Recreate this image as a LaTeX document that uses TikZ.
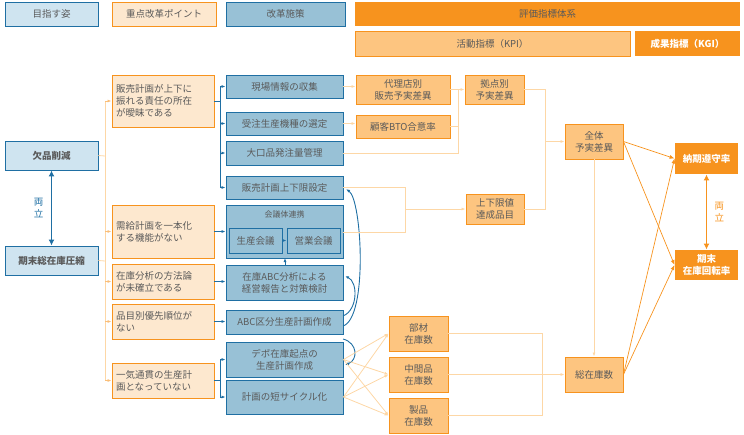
\documentclass[tikz,border=0pt]{standalone}
\usepackage{fontspec}
\setmainfont{Noto Sans CJK JP}
\usetikzlibrary{arrows.meta}
\definecolor{gtxt}{HTML}{5A5A5A}
\definecolor{lb}{HTML}{CFE4F0}
\definecolor{bb}{HTML}{1F6FA3}
\definecolor{mb}{HTML}{98C1D6}
\definecolor{lo}{HTML}{FDE8CF}
\definecolor{ob}{HTML}{F7931E}
\definecolor{ko}{HTML}{FDC580}
\definecolor{ln}{HTML}{FDD7A6}
\tikzset{
 base/.style={font=\fontsize{9.5}{12}\selectfont, text=gtxt, inner sep=1pt, line width=0.9pt},
 goal/.style={base, draw=bb, fill=lb},
 pt/.style={base, draw=ob, fill=lo, align=left, text width=94pt},
 meas/.style={base, draw=bb, fill=mb, align=center},
 kpi/.style={base, draw=ob, fill=ko, align=center},
 kgi/.style={base, fill=ob, text=white, font=\fontsize{9.5}{12}\selectfont\bfseries, align=center},
 oline/.style={draw=ln, line width=0.8pt},
 oarr/.style={oline, -{Latex[length=4pt,width=3pt]}},
 barr/.style={draw=bb, line width=0.9pt, -{Latex[length=4pt,width=3pt]}},
 garr/.style={draw=ob, line width=0.9pt, -{Latex[length=5pt,width=4pt]}},
}
\newcommand{\bx}[7]{\node[#1, minimum width=#4pt-#2pt, minimum height=#5pt-#3pt] (#6) at ({(#2+#4)/2},{(#3+#5)/2}) {#7};}
\begin{document}
\begin{tikzpicture}[x=1pt,y=-1pt]
\useasboundingbox (0,0) rectangle (744,434);
% header
\bx{goal}{5}{2}{98}{26}{h1}{目指す姿}
\bx{base,draw=ob,fill=lo}{112}{2}{216}{26}{h2}{重点改革ポイント}
\bx{meas}{226}{2}{345}{26}{h3}{改革施策}
\bx{base,fill=ob}{355}{2}{740}{26}{h4}{評価指標体系}
\bx{base,fill=ko,draw=ob}{355}{31}{630}{56}{h5}{活動指標（KPI）}
\bx{kgi}{635}{31}{740}{56}{h6}{成果指標（KGI）}
% goals
\bx{goal}{5}{141}{98}{170}{g1}{\bfseries 欠品削減}
\bx{goal}{5}{246}{98}{275}{g2}{\bfseries 期末総在庫圧縮}
\draw[draw=bb,line width=1.6pt,{Latex[length=6pt,width=6pt]}-{Latex[length=6pt,width=6pt]}] (g1.south) -- (g2.north) node[midway,left=4pt,text=bb,font=\fontsize{9.5}{12}\selectfont,align=center]{両\\立};
% points
\bx{pt}{112}{75}{214}{127}{p1}{販売計画が上下に\\振れる責任の所在\\が曖昧である}
\bx{pt}{112}{205}{214}{258}{p2}{需給計画を一本化\\する機能がない}
\bx{pt}{112}{264}{214}{299}{p3}{在庫分析の方法論\\が未確立である}
\bx{pt}{112}{304}{214}{339}{p4}{品目別優先順位が\\ない}
\bx{pt}{112}{363}{214}{398}{p5}{一気通貫の生産計\\画となっていない}
\coordinate (t1) at (105,101);
\coordinate (t5) at (105,381);
\draw[oline] (g1.east) -- (105,156);
\draw[oline] (g2.east) -- (105,261);
\draw[oline] (t1) -- (t5);
\foreach \p in {p1,p2,p3,p4,p5}{\draw[oarr,draw=ob!60] (105,0 |- \p.west) -- (\p.west);}
% measures
\bx{meas}{226}{75}{343}{98}{m1}{現場情報の収集}
\bx{meas}{226}{112}{343}{135}{m2}{受注生産機種の選定}
\bx{meas}{226}{141}{343}{165}{m3}{大口品発注量管理}
\bx{meas}{226}{176}{343}{199}{m4}{販売計画上下限設定}
\bx{meas}{226}{205}{343}{258}{m5}{}
\node[base,font=\fontsize{8}{10}\selectfont] (m5t) at (284.5,214) {会議体連携};
\bx{meas}{229}{228}{282}{253}{m5a}{生産会議}
\bx{meas}{287}{228}{340}{253}{m5b}{営業会議}
\bx{meas}{226}{265}{343}{300}{m6}{在庫ABC分析による\\経営報告と対策検討}
\bx{meas}{226}{310}{343}{334}{m7}{ABC区分生産計画作成}
\bx{meas}{226}{342}{343}{377}{m8}{デポ在庫起点の\\生産計画作成}
\bx{meas}{226}{380}{343}{414}{m9}{計画の短サイクル化}
\draw[draw=bb,line width=0.9pt] (p1.east) -- (220,101 |- p1.east);
\draw[draw=bb,line width=0.9pt] (220,86.5) -- (220,187.5);
\foreach \m in {m1,m2,m3,m4}{\draw[barr] (220,0 |- \m.west) -- (\m.west);}
\draw[draw=bb,line width=0.9pt] (p5.east) -- (220,0 |- p5.east);
\draw[draw=bb,line width=0.9pt] (220,359.5) -- (220,397);
\foreach \m in {m8,m9}{\draw[barr] (220,0 |- \m.west) -- (\m.west);}
\draw[barr] (p2.east) -- (m5.west |- p2.east);
\draw[barr] (p3.east) -- (m6.west |- p3.east);
\draw[barr] (p4.east) -- (m7.west |- p4.east);
\draw[barr] (m5a) -- (m5b);
\draw[barr] (m6.north -| 285,0) -- (285,258);
\draw[barr] (343,316) .. controls (358,310) and (358,282) .. (345,276);
\draw[barr] (343,326) .. controls (368,318) and (362,200) .. (346,189);
\draw[barr] (343,339) .. controls (358,343) and (358,360) .. (345,365);
% KPI
\bx{kpi}{356}{75}{450}{104}{k1}{代理店別\\販売予実差異}
\bx{kpi}{356}{115}{450}{138}{k2}{顧客BTO合意率}
\bx{kpi}{465}{75}{524}{104}{k3}{拠点別\\予実差異}
\bx{kpi}{466}{194}{524}{224}{k4}{上下限値\\達成品目}
\bx{kpi}{565}{124}{623}{159}{k5}{全体\\予実差異}
\bx{kpi}{389}{316}{448}{351}{k6}{部材\\在庫数}
\bx{kpi}{389}{357}{448}{392}{k7}{中間品\\在庫数}
\bx{kpi}{389}{398}{448}{433}{k8}{製品\\在庫数}
\bx{kpi}{565}{357}{623}{392}{k9}{総在庫数}
\bx{kgi}{675}{143}{738}{174}{q1}{納期遵守率}
\bx{kgi}{675}{250}{738}{280}{q2}{期末\\在庫回転率}
\draw[draw=ob,line width=1.6pt,{Latex[length=6pt,width=6pt]}-{Latex[length=6pt,width=6pt]}] (q1.south) -- (q2.north) node[midway,right=4pt,text=ob,font=\fontsize{9.5}{12}\selectfont,align=center]{両\\立};
% KPI connectors
\draw[oarr] (m1.east) -- (k1.west |- m1.east);
\draw[oarr] (m2.east) -- (k2.west |- m2.east);
\draw[oline] (k1.east) -- (458,0 |- k1.east);
\draw[oarr] (458,89.5) -- (k3.west |- 0,89.5);
\draw[oline] (k2.east) -- (458,0 |- k2.east);
\draw[oline] (m3.east) -- (458,153) -- (458,89.5);
\draw[oline] (m4.east) -- (405,187.5) -- (405,232) -- (m5.east |- 0,232);
\draw[oarr] (405,209) -- (k4.west |- 0,209);
\draw[oline] (k3.east) -- (545,89.5) -- (545,209) -- (k4.east);
\draw[oarr] (545,141.5) -- (k5.west);
\draw[oarr] (k5.south) -- (k9.north);
\foreach \a in {m8,m9}{\foreach \b in {k6,k7,k8}{\draw[oarr] (\a.east) -- (\b.west);}}
\draw[oline] (k6.east) -- (542,333.5) -- (542,415.5) -- (k8.east);
\draw[oline] (k7.east) -- (542,374.5);
\draw[oarr] (542,374.5) -- (k9.west);
\foreach \a in {k5,k9}{\foreach \b in {q1,q2}{\draw[garr,line width=0.7pt] (\a.east) -- (\b.west);}}
\end{tikzpicture}
\end{document}
